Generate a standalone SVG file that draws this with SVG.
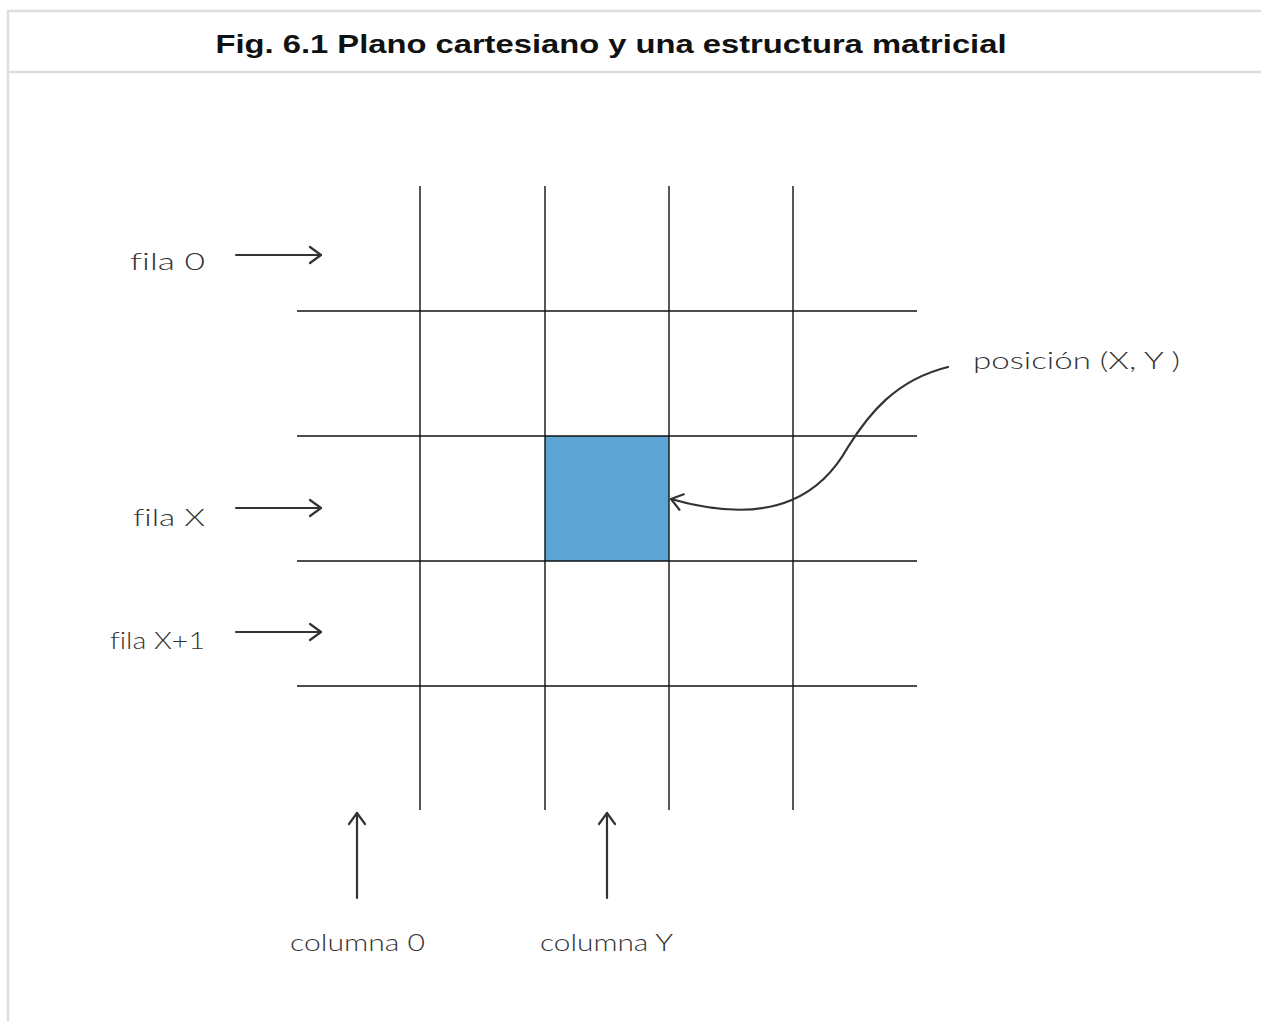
<svg xmlns="http://www.w3.org/2000/svg" width="1261" height="1021" viewBox="0 0 1261 1021">
<defs>
<style>
.frame{fill:none;stroke:#dddddd;stroke-width:2.5}
.grid{stroke:#111;stroke-width:1.4;fill:none}
.arr{stroke:#333;stroke-width:2.2;fill:none;stroke-linecap:round}
.lbl{font-family:"Lato","Open Sans",sans-serif;font-weight:300;font-size:24px;fill:#333;font-variant-ligatures:none;font-feature-settings:"liga" 0}
.title{font-family:"Liberation Sans",Arial,sans-serif;font-weight:bold;font-size:26px;fill:#111}
</style>
<marker id="head" viewBox="0 0 20 20" refX="15" refY="10" markerWidth="20" markerHeight="20" markerUnits="userSpaceOnUse" orient="auto">
<path d="M4 2 L15 10 L4 18" fill="none" stroke="#333" stroke-width="2.2" stroke-linecap="round" stroke-linejoin="round"/>
</marker>
</defs>
<rect width="1261" height="1021" fill="#fff"/>
<g id="frame">
<path class="frame" d="M1275 11 H8 V1030"/>
<line class="frame" x1="8" y1="72" x2="1275" y2="72"/>
<text class="title" x="611" y="53" text-anchor="middle" textLength="791" lengthAdjust="spacingAndGlyphs">Fig. 6.1 Plano cartesiano y una estructura matricial</text>
</g>
<g id="cell">
<rect x="545" y="436" width="124" height="125" fill="#5ba4d4"/>
</g>
<g id="grid">
<line class="grid" x1="420" y1="186" x2="420" y2="810"/>
<line class="grid" x1="545" y1="186" x2="545" y2="810"/>
<line class="grid" x1="669" y1="186" x2="669" y2="810"/>
<line class="grid" x1="793" y1="186" x2="793" y2="810"/>
<line class="grid" x1="297" y1="311" x2="917" y2="311"/>
<line class="grid" x1="297" y1="436" x2="917" y2="436"/>
<line class="grid" x1="297" y1="561" x2="917" y2="561"/>
<line class="grid" x1="297" y1="686" x2="917" y2="686"/>
</g>
<g id="labels">
<text class="lbl" x="205" y="270" text-anchor="end" textLength="75" lengthAdjust="spacingAndGlyphs">fila 0</text>
<text class="lbl" x="205" y="526" text-anchor="end" textLength="72" lengthAdjust="spacingAndGlyphs">fila X</text>
<text class="lbl" x="205" y="649" text-anchor="end" textLength="95" lengthAdjust="spacingAndGlyphs">fila X+1</text>
<text class="lbl" x="973" y="369" textLength="207" lengthAdjust="spacingAndGlyphs">posición (X, Y )</text>
<text class="lbl" x="290" y="951" textLength="135" lengthAdjust="spacingAndGlyphs">columna 0</text>
<text class="lbl" x="540" y="951" textLength="133" lengthAdjust="spacingAndGlyphs">columna Y</text>
</g>
<g id="connectors">
<line class="arr" x1="236" y1="255" x2="321" y2="255" marker-end="url(#head)"/>
<line class="arr" x1="236" y1="508" x2="321" y2="508" marker-end="url(#head)"/>
<line class="arr" x1="236" y1="632" x2="321" y2="632" marker-end="url(#head)"/>
<line class="arr" x1="357" y1="898" x2="357" y2="813" marker-end="url(#head)"/>
<line class="arr" x1="607" y1="898" x2="607" y2="813" marker-end="url(#head)"/>
<path class="arr" d="M948 367 C895 380 868 415 848 447 C825 488 780 530 671 499" marker-end="url(#head)"/>
</g>
</svg>
